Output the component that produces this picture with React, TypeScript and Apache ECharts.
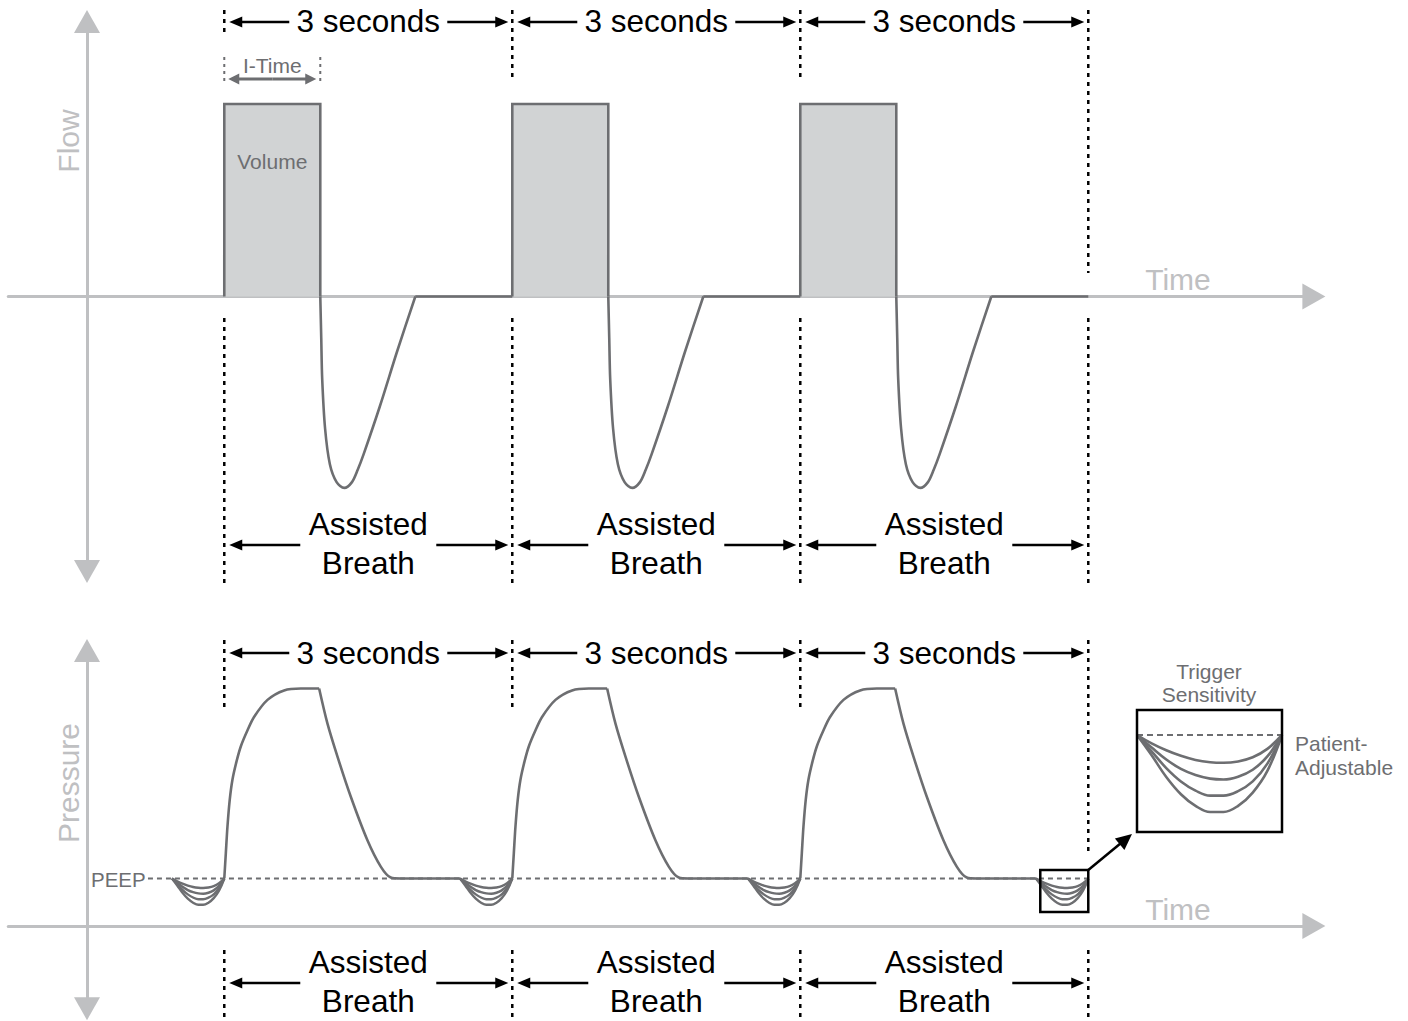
import React, { useEffect, useRef } from "react";
import * as echarts from "echarts";

// ---------------- data (time in s, flow in relative units, pressure in cmH2O) ----------------
const triggerTimes = [1.43, 4.43, 7.43, 10.43];
const breathStarts = [1.43, 4.43, 7.43];
const inspTime = 1.0;
const peakFlow = 0.7;
const peep = 5;
const peepLineStart = 0.635;

// expiratory flow, time relative to breath start
const flowExpT = [1.0, 1.01, 1.02, 1.05, 1.1, 1.17, 1.25, 1.33, 1.39, 1.45, 1.62, 1.8, 1.99];
const flowExpV = [0, -0.15, -0.3, -0.48, -0.61, -0.675, -0.696, -0.675, -0.63, -0.575, -0.4, -0.2, 0];

// airway pressure, time relative to breath start
const pressRiseT = [0, 0.016, 0.033, 0.057, 0.085, 0.127, 0.172, 0.242, 0.31, 0.45, 0.623, 0.797, 0.988];
const pressRiseV = [5, 7.65, 10.45, 13.3, 15.4, 17.3, 18.9, 20.6, 22.0, 23.8, 24.8, 25.0, 25.0];
const pressFallT = [0.988, 1.075, 1.18, 1.318, 1.49, 1.63, 1.734, 1.84];
const pressFallV = [25.0, 21.3, 17.8, 13.6, 9.05, 6.25, 5.1, 5.0];

// patient trigger efforts (time relative to trigger)
const dipT = [-0.545, -0.49, -0.435, -0.38, -0.325, -0.27, -0.22, -0.165, -0.11, -0.055, 0];
const dipCurve1 = [5, 4.7, 4.45, 4.25, 4.1, 4.02, 4.0, 4.05, 4.2, 4.5, 5];
const dipCurve2 = [5, 4.55, 4.12, 3.78, 3.56, 3.43, 3.4, 3.5, 3.75, 4.23, 5];
const dipCurve3 = [5, 4.41, 3.81, 3.33, 3.0, 2.82, 2.82, 2.98, 3.33, 3.97, 5];
const dipCurve4 = [5, 4.27, 3.49, 2.87, 2.45, 2.23, 2.23, 2.45, 2.93, 3.71, 5];
const dipCurves = [dipCurve1, dipCurve2, dipCurve3, dipCurve4];

const cycleLabel = "3 seconds";
const breathLabel = ["Assisted", "Breath"];

// ---------------- styles ----------------
const LINE = "#6d6e71";
const FILL = "#d1d3d4";
const AXIS = "#bfc0c2";
const BLACK = "#000000";
const FONT = 'Arial, "Liberation Sans", Helvetica, sans-serif';

const xAxisMain = (gridIndex: number) => ({
  type: "value",
  gridIndex,
  min: -0.82,
  max: 12.78,
  axisLine: {
    show: true,
    onZero: true,
    symbol: ["none", "triangle"],
    symbolSize: [26, 23],
    lineStyle: { color: AXIS, width: 3 },
  },
  axisTick: { show: false },
  axisLabel: { show: false },
  splitLine: { show: false },
});

const yAxisMain = (gridIndex: number, min: number, max: number) => ({
  type: "value",
  gridIndex,
  min,
  max,
  axisLine: {
    show: true,
    onZero: true,
    symbol: ["triangle", "triangle"],
    symbolSize: [26, 23],
    lineStyle: { color: AXIS, width: 3 },
  },
  axisTick: { show: false },
  axisLabel: { show: false },
  splitLine: { show: false },
});

const lineS = (idx: number, data: number[][], extra: any = {}) => ({
  type: "line",
  xAxisIndex: idx,
  yAxisIndex: idx,
  data,
  symbol: "none",
  silent: true,
  lineStyle: { color: LINE, width: 2.6, join: "round" },
  ...extra,
});

function buildOption() {
  const series: any[] = [];
  // Flow panel
  breathStarts.forEach((s, i) => {
    series.push(
      lineS(0, [[s, 0], [s, peakFlow], [s + inspTime, peakFlow], [s + inspTime, 0]], {
        areaStyle: { color: FILL, opacity: 1 },
        lineStyle: { color: LINE, width: 2.6, join: "miter" },
      })
    );
    series.push(lineS(0, flowExpT.map((t, k) => [s + t, flowExpV[k]]), { smooth: 0.3 }));
    series.push(lineS(0, [[s + flowExpT[flowExpT.length - 1], 0], [triggerTimes[i + 1], 0]]));
  });
  // Pressure panel
  series.push(
    lineS(1, [[peepLineStart, peep], [triggerTimes[triggerTimes.length - 1], peep]], {
      lineStyle: { color: LINE, width: 2, type: [5, 4] },
    })
  );
  breathStarts.forEach((s, i) => {
    series.push(lineS(1, pressRiseT.map((t, k) => [s + t, pressRiseV[k]]), { smooth: 0.3 }));
    series.push(lineS(1, pressFallT.map((t, k) => [s + t, pressFallV[k]]), { smooth: 0.3 }));
    series.push(
      lineS(1, [[s + pressFallT[pressFallT.length - 1], peep], [triggerTimes[i + 1] + dipT[0], peep]])
    );
  });
  triggerTimes.forEach((tt) => {
    dipCurves.forEach((c) => {
      series.push(
        lineS(1, dipT.map((t, k) => [tt + t, c[k]]), { smooth: 0.4, lineStyle: { color: LINE, width: 2.4 } })
      );
    });
  });
  // Inset (magnified trigger sensitivity)
  series.push(
    lineS(2, [[dipT[0], peep], [dipT[dipT.length - 1], peep]], {
      clip: false,
      lineStyle: { color: LINE, width: 2.2, type: [6, 4] },
    })
  );
  dipCurves.forEach((c) => {
    series.push(
      lineS(2, dipT.map((t, k) => [t, c[k]]), { smooth: 0.4, clip: false, lineStyle: { color: LINE, width: 2.6 } })
    );
  });

  return {
    animation: false,
    backgroundColor: "#ffffff",
    grid: [
      { left: 8.28, right: 94.12, top: 21.5, height: 550, containLabel: false },
      { left: 8.28, right: 94.12, top: 650.5, height: 358.15, containLabel: false },
      { left: 1137, width: 145, top: 735, height: 77, containLabel: false },
    ],
    xAxis: [
      xAxisMain(0),
      xAxisMain(1),
      { type: "value", gridIndex: 2, min: dipT[0], max: 0, show: false },
    ],
    yAxis: [
      yAxisMain(0, -1, 1),
      yAxisMain(1, -8.7, 29),
      { type: "value", gridIndex: 2, min: 2.23, max: 5, show: false },
    ],
    series,
  };
}

function text(x: number, y: number, t: string, size: number, color: string, align = "center", rotation = 0) {
  return {
    type: "text",
    x,
    y,
    rotation,
    silent: true,
    z: 10,
    style: {
      text: t,
      font: `${size}px ${FONT}`,
      fill: color,
      align,
      verticalAlign: "middle",
      textAlign: align,
      textVerticalAlign: "middle",
    },
  };
}

function arrow(x1: number, y1: number, x2: number, y2: number, color: string, width: number, headLen: number, headHalf: number) {
  const dx = x2 - x1;
  const dy = y2 - y1;
  const L = Math.sqrt(dx * dx + dy * dy);
  const ux = dx / L;
  const uy = dy / L;
  const bx = x2 - ux * headLen;
  const by = y2 - uy * headLen;
  const nx = -uy;
  const ny = ux;
  return [
    {
      type: "line",
      silent: true,
      z: 10,
      shape: { x1, y1, x2: bx + ux * 1, y2: by + uy * 1 },
      style: { stroke: color, lineWidth: width },
    },
    {
      type: "polygon",
      silent: true,
      z: 10,
      shape: { points: [[x2, y2], [bx + nx * headHalf, by + ny * headHalf], [bx - nx * headHalf, by - ny * headHalf]] },
      style: { fill: color },
    },
  ];
}

function vdots(x: number, y1: number, y2: number, color = BLACK, width = 2.5, dash = [4, 5]) {
  return {
    type: "line",
    silent: true,
    z: 10,
    shape: { x1: x, y1, x2: x, y2 },
    style: { stroke: color, lineWidth: width, lineDash: dash },
  };
}

function buildGraphic(px: (t: number) => number) {
  const X = triggerTimes.map(px);
  const els: any[] = [];
  const last = X.length - 1;
  // vertical dotted markers
  X.forEach((x, i) => {
    const topEnd = i === 0 ? 32 : i === last ? 273 : 80;
    els.push(vdots(x, 10, topEnd));
    els.push(vdots(x, 318, 583));
    els.push(vdots(x, 640, i === last ? 852 : 712));
    els.push(vdots(x, 950, 1021));
  });
  // cycle brackets
  for (let i = 0; i < X.length - 1; i++) {
    const mid = (X[i] + X[i + 1]) / 2;
    [22, 653].forEach((y, k) => {
      els.push(text(mid, k === 0 ? 21 : 653, cycleLabel, 31.5, BLACK));
      els.push(...arrow(mid - 79, y, X[i] + 5, y, BLACK, 2.5, 13, 5.5));
      els.push(...arrow(mid + 79, y, X[i + 1] - 4, y, BLACK, 2.5, 13, 5.5));
    });
    [
      [524, 563, 545],
      [962, 1001, 983],
    ].forEach(([ya, yb, yArr]) => {
      els.push(text(mid, ya, breathLabel[0], 31.5, BLACK));
      els.push(text(mid, yb, breathLabel[1], 31.5, BLACK));
      els.push(...arrow(mid - 68, yArr, X[i] + 5, yArr, BLACK, 2.5, 13, 5.5));
      els.push(...arrow(mid + 68, yArr, X[i + 1] - 4, yArr, BLACK, 2.5, 13, 5.5));
    });
  }
  // I-Time
  const xa = px(breathStarts[0]);
  const xb = px(breathStarts[0] + inspTime);
  els.push(vdots(xa, 57, 81, LINE, 2, [3, 4]));
  els.push(vdots(xb, 57, 81, LINE, 2, [3, 4]));
  const xm = (xa + xb) / 2;
  els.push(...arrow(xm, 79, xa + 4, 79, LINE, 3, 11, 5.5));
  els.push(...arrow(xm, 79, xb - 4, 79, LINE, 3, 11, 5.5));
  els.push(text(xm, 65, "I-Time", 21, LINE));
  els.push(text(xm, 161, "Volume", 21, LINE));
  // axis titles
  els.push(text(68, 141, "Flow", 30, AXIS, "center", Math.PI / 2));
  els.push(text(68, 783, "Pressure", 30, AXIS, "center", Math.PI / 2));
  els.push(text(1178, 279, "Time", 30, AXIS));
  els.push(text(1178, 909, "Time", 30, AXIS));
  els.push(text(91, 879, "PEEP", 20.5, LINE, "left"));
  // zoom box and inset
  const xr = X[last];
  els.push({
    type: "rect",
    silent: true,
    z: 10,
    shape: { x: xr - 48, y: 870, width: 48, height: 42 },
    style: { fill: "none", stroke: BLACK, lineWidth: 2.5 },
  });
  els.push(...arrow(xr, 870, 1132, 834, BLACK, 2.5, 16, 7.5));
  els.push({
    type: "rect",
    silent: true,
    z: 10,
    shape: { x: 1137, y: 710, width: 145, height: 122 },
    style: { fill: "none", stroke: BLACK, lineWidth: 2.5 },
  });
  els.push(text(1209, 671, "Trigger", 21, LINE));
  els.push(text(1209, 694, "Sensitivity", 21, LINE));
  els.push(text(1295, 743, "Patient-", 21, LINE, "left"));
  els.push(text(1295, 767, "Adjustable", 21, LINE, "left"));
  return els;
}

export default function App() {
  const ref = useRef<HTMLDivElement>(null);
  useEffect(() => {
    if (!ref.current) return;
    const chart = echarts.init(ref.current, null, { renderer: "svg" });
    chart.setOption(buildOption() as any);
    const px = (t: number) => chart.convertToPixel({ xAxisIndex: 0 } as any, t) as unknown as number;
    chart.setOption({ graphic: { elements: buildGraphic(px) } } as any);
    return () => chart.dispose();
  }, []);
  return (
    <div
      ref={ref}
      style={{ position: "fixed", left: 0, top: 0, width: 1408, height: 1021, background: "#ffffff" }}
    />
  );
}
